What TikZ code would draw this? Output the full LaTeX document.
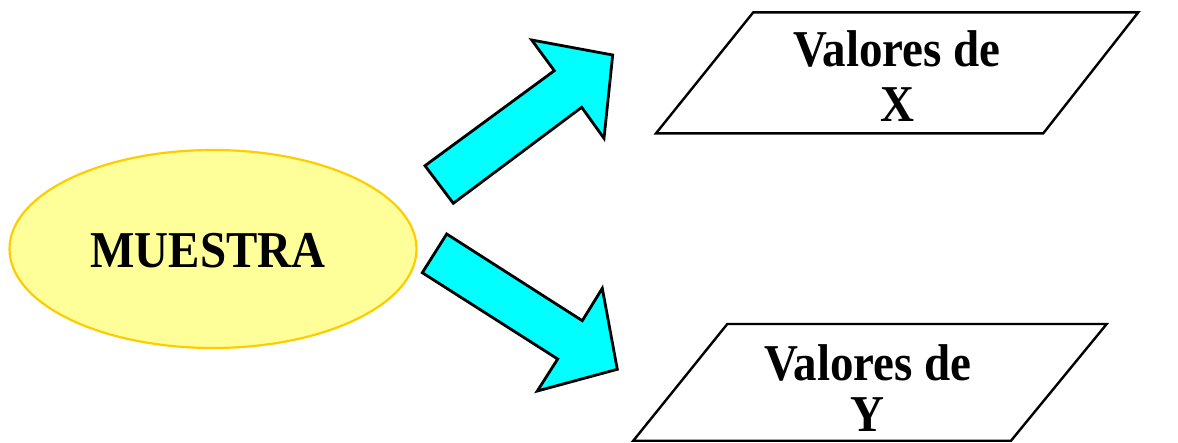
\documentclass[tikz,border=0pt]{standalone}
\usepackage{fontspec}
\setmainfont{Liberation Serif}
\usetikzlibrary{shapes.geometric}
\definecolor{elfill}{HTML}{FFFF99}
\definecolor{eldraw}{HTML}{FFCC00}
\definecolor{arrcyan}{HTML}{00FFFF}
\newcommand{\tallbf}[1]{\scalebox{1}[1.1]{#1}}
\tikzset{
  bigtext/.style={font=\fontsize{47}{56}\selectfont\bfseries, inner sep=0pt, anchor=base},
  blockarrow/.style={draw=black, fill=arrcyan, line width=2.8pt, line join=miter},
  databox/.style={draw=black, line width=2.4pt, line join=miter}
}
\begin{document}
\begin{tikzpicture}[x=1pt,y=-1pt]
\useasboundingbox (0,0) rectangle (1178,442);
% ellipse
\node[ellipse, draw=eldraw, fill=elfill, line width=2.2pt, minimum width=407pt, minimum height=198pt, inner sep=0pt] (muestra) at (213,249) {};
\node[bigtext] (mtext) at (208,267) {\tallbf{MUESTRA}};
% upper arrow
\draw[blockarrow] (425,165.7) -- (554.3,70.7) -- (531.7,40) -- (612.7,55) -- (604,138.3) -- (581.7,107.3) -- (453.3,203.3) -- cycle;
% lower arrow
\draw[blockarrow] (446.7,234) -- (582.3,320.7) -- (602.3,288.3) -- (617.3,369.3) -- (537.3,391) -- (557.7,359) -- (422.3,272.7) -- cycle;
% parallelogram X
\coordinate (xa) at (753.3,12.3);
\coordinate (xb) at (1138.3,12.3);
\coordinate (xc) at (1043.3,133.3);
\coordinate (xd) at (656,133.3);
\draw[databox] (xa) -- (xb) -- (xc) -- (xd) -- cycle;
\node[bigtext] (xl1) at (897,66.7) {\tallbf{Valores de}};
\node[bigtext] (xl2) at (897,121.7) {\tallbf{X}};
% parallelogram Y
\coordinate (ya) at (727.3,324);
\coordinate (yb) at (1106.7,324);
\coordinate (yc) at (1011,440.7);
\coordinate (yd) at (633.3,440.7);
\draw[databox] (ya) -- (yb) -- (yc) -- (yd) -- cycle;
\node[bigtext] (yl1) at (868,380) {\tallbf{Valores de}};
\node[bigtext] (yl2) at (867,431.7) {\tallbf{Y}};
\end{tikzpicture}
\end{document}
